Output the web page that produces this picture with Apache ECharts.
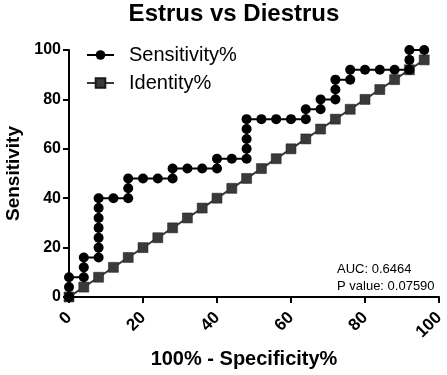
<!DOCTYPE html>
<html>
<head>
<meta charset="utf-8">
<script src="https://cdn.jsdelivr.net/npm/echarts@6/dist/echarts.min.js"></script>
<style>
  html, body { margin: 0; padding: 0; background: #fff; }
  #chart { width: 447px; height: 375px; }
</style>
</head>
<body>
<div id="chart"></div>
<script>
// ROC points: 100% - specificity (x) and sensitivity (y)
const sensX = [0, 0, 0, 4, 4, 4, 8, 8, 8, 8, 8, 8, 8, 12, 16, 16, 16, 20, 24, 28, 28, 32, 36, 40, 40,
  44, 48, 48, 48, 48, 48, 52, 56, 60, 64, 64, 68, 68, 72, 72, 72, 76, 76, 80, 84, 88, 92, 92, 92, 96]
const sensY = [0, 4, 8, 8, 12, 16, 16, 20, 24, 28, 32, 36, 40, 40, 40, 44, 48, 48, 48, 48, 52, 52, 52, 52, 56,
  56, 56, 60, 64, 68, 72, 72, 72, 72, 72, 76, 76, 80, 80, 84, 88, 88, 92, 92, 92, 92, 92, 96, 100, 100]
const identX = [0, 4, 8, 12, 16, 20, 24, 28, 32, 36, 40, 44, 48, 52, 56, 60, 64, 68, 72, 76, 80, 84, 88, 92, 96]
const identY = [0, 4, 8, 12, 16, 20, 24, 28, 32, 36, 40, 44, 48, 52, 56, 60, 64, 68, 72, 76, 80, 84, 88, 92, 96]
const xTicks = [0, 20, 40, 60, 80, 100]
const yTicks = [0, 20, 40, 60, 80, 100]
const auc = 'AUC: 0.6464'
const pValue = 'P value: 0.07590'

const font = '"Liberation Sans", Arial, sans-serif'
const chart = echarts.init(document.getElementById('chart'), undefined, { renderer: 'canvas' })

function axisCommon(ticks) {
  return {
    type: 'value',
    min: ticks[0],
    max: ticks[ticks.length - 1],
    interval: ticks[1] - ticks[0],
    axisLine: { show: true, onZero: false, lineStyle: { color: '#000', width: 2 } },
    axisTick: { show: true, length: 6, lineStyle: { color: '#000', width: 2 } },
    splitLine: { show: false },
  }
}

chart.setOption({
  backgroundColor: '#fff',
  animation: false,
  title: {
    text: 'Estrus vs Diestrus',
    left: 229,
    textAlign: 'center',
    top: -3,
    textStyle: { fontFamily: font, fontSize: 24, fontWeight: 'bold', color: '#000' },
  },
  grid: { left: 69, right: 8, top: 50, bottom: 78, outerBoundsMode: 'none' },
  legend: {
    orient: 'vertical',
    left: 81,
    top: 40,
    itemWidth: 27,
    itemHeight: 12,
    itemGap: 8,
    textStyle: { fontFamily: font, fontSize: 20, color: '#000', padding: [0, 0, 0, 10] },
    data: ['Sensitivity%', 'Identity%'],
  },
  xAxis: {
    ...axisCommon(xTicks),
    name: '100% - Specificity%',
    nameLocation: 'middle',
    nameGap: 52,
    nameTextStyle: { fontFamily: font, fontSize: 20, fontWeight: 'bold', color: '#000', padding: [0, 20, 0, 0] },
    axisLabel: { rotate: 45, margin: 18, fontFamily: font, fontSize: 17, fontWeight: 'bold', color: '#000' },
  },
  yAxis: {
    ...axisCommon(yTicks),
    name: 'Sensitivity',
    nameLocation: 'middle',
    nameGap: 45,
    nameTextStyle: { fontFamily: font, fontSize: 19, fontWeight: 'bold', color: '#000' },
    axisLabel: { margin: 8, fontFamily: font, fontSize: 16, fontWeight: 'bold', color: '#000' },
  },
  graphic: [
    { type: 'text', left: 337, top: 263, style: { text: auc, font: '13px ' + font, fill: '#000' } },
    { type: 'text', left: 337, top: 280, style: { text: pValue, font: '13px ' + font, fill: '#000' } },
  ],
  series: [
    {
      name: 'Identity%',
      type: 'line',
      data: identX.map((x, i) => [x, identY[i]]),
      symbol: 'rect',
      symbolSize: 10,
      clip: false,
      z: 2,
      lineStyle: { color: '#3a3a3a', width: 2 },
      itemStyle: { color: '#3a3a3a', borderColor: '#1a1a1a', borderWidth: 0.5 },
    },
    {
      name: 'Sensitivity%',
      type: 'line',
      data: sensX.map((x, i) => [x, sensY[i]]),
      symbol: 'circle',
      symbolSize: 10,
      clip: false,
      z: 3,
      lineStyle: { color: '#000', width: 2 },
      itemStyle: { color: '#000' },
    },
  ],
})
</script>
</body>
</html>
